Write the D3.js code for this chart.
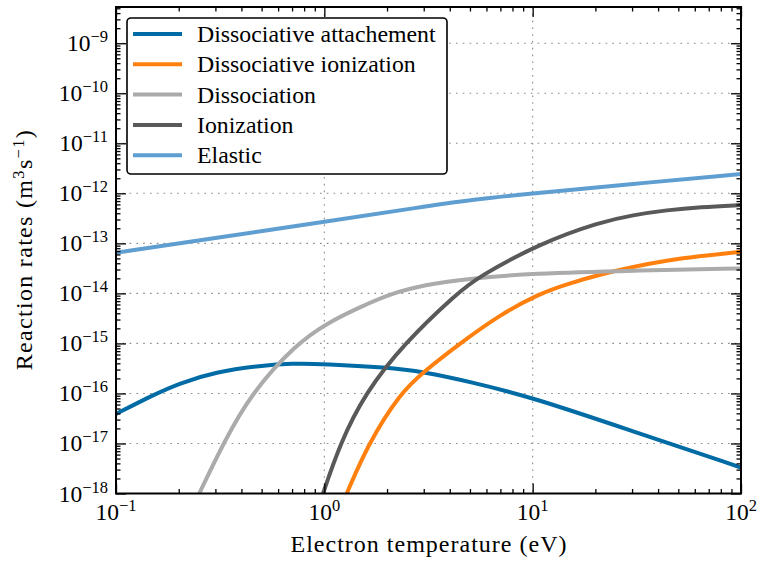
<!DOCTYPE html>
<html>
<head>
<meta charset="utf-8">
<script src="https://cdn.jsdelivr.net/npm/d3@7"></script>
<style>
  html, body { margin: 0; padding: 0; background: #fff; }
  svg { display: block; }
  text { font-family: "Liberation Serif", "Times New Roman", serif; fill: #000; }
</style>
</head>
<body>
<svg id="chart" width="762" height="564"></svg>
<script>
// ---------- data ----------
const seriesNames = ["Dissociative attachement", "Dissociative ionization", "Dissociation", "Ionization", "Elastic"];
const seriesColors = ["#006BA4", "#FF800E", "#ABABAB", "#595959", "#5F9ED1"];

// electron temperature (eV) / reaction rate (m^3 s^-1)
const attachT = [0.1, 0.15, 0.2, 0.3, 0.5, 0.7, 1, 2, 2.99, 4.98, 9.93, 31.7, 100];
const attachK = [3.89e-17, 9.25e-17, 1.58e-16, 2.70e-16, 3.63e-16, 3.98e-16, 3.89e-16, 3.31e-16, 2.70e-16, 1.72e-16, 8.43e-17, 1.64e-17, 3.31e-18];

const dissIonT = [1.281, 1.626, 2.309, 2.987, 4.48, 6.97, 10.85, 14.57, 21.07, 30.4, 44.0, 63.6, 100];
const dissIonK = [1e-18, 1e-17, 1e-16, 2.70e-16, 1e-15, 3.77e-15, 1e-14, 1.53e-14, 2.40e-14, 3.40e-14, 4.53e-14, 5.57e-14, 6.79e-14];

const dissT = [0.251, 0.327, 0.4446, 0.737, 1.042, 1.495, 2.113, 2.987, 4.99, 9.93, 30.3, 100];
const dissK = [1e-18, 1e-17, 1e-16, 1e-15, 2.61e-15, 5.40e-15, 1e-14, 1.47e-14, 2.0e-14, 2.49e-14, 2.86e-14, 3.16e-14];

const ionT = [0.986, 1.19, 1.567, 2.414, 4.335, 5.47, 10.85, 21.06, 30.3, 44.2, 63.6, 100];
const ionK = [1e-18, 1e-17, 1e-16, 1e-15, 1e-14, 2.12e-14, 1e-13, 2.67e-13, 3.68e-13, 4.63e-13, 5.32e-13, 5.83e-13];

const elasticT = [0.1, 0.3, 1, 2.99, 4.98, 9.93, 29.8, 100];
const elasticK = [6.49e-14, 1.28e-13, 2.70e-13, 5.40e-13, 7.35e-13, 1.0e-12, 1.53e-12, 2.43e-12];

const xTickValues = [0.1, 1, 10, 100];
const xTickExps = ["−1", "0", "1", "2"];
const yTickValues = [1e-18, 1e-17, 1e-16, 1e-15, 1e-14, 1e-13, 1e-12, 1e-11, 1e-10, 1e-9];
const yTickExps = ["−18", "−17", "−16", "−15", "−14", "−13", "−12", "−11", "−10", "−9"];

const xTitle = "Electron temperature (eV)";

// ---------- layout ----------
const svg = d3.select("#chart");
const L = 116, R = 741, T = 7, B = 493.5;
const x = d3.scaleLog().domain([0.1, 100]).range([L, R]);
const y = d3.scaleLog().domain([1e-18, 5.3e-9]).range([B, T]);

const xMinor = [];
for (let k = -1; k < 2; k++) for (let m = 2; m <= 9; m++) xMinor.push(m * Math.pow(10, k));
const yMinor = [];
for (let k = -18; k < -8; k++) for (let m = 2; m <= 9; m++) {
  const v = m * Math.pow(10, k);
  if (v <= y.domain()[1]) yMinor.push(v);
}

// grid
const grid = svg.append("g").attr("stroke", "#8a8a8a").attr("stroke-width", 1.1).attr("stroke-dasharray", "1.6,5.2");
grid.selectAll("line.gx").data(xTickValues.slice(1, -1)).enter().append("line")
  .attr("x1", d => x(d)).attr("x2", d => x(d)).attr("y1", T).attr("y2", B);
grid.selectAll("line.gy").data(yTickValues.slice(1)).enter().append("line")
  .attr("y1", d => y(d)).attr("y2", d => y(d)).attr("x1", L).attr("x2", R);

// curves
svg.append("clipPath").attr("id", "clip").append("rect")
  .attr("x", L).attr("y", T).attr("width", R - L).attr("height", B - T);

const series = [
  { T: attachT, K: attachK },
  { T: dissIonT, K: dissIonK },
  { T: dissT, K: dissK },
  { T: ionT, K: ionK },
  { T: elasticT, K: elasticK }
];
const line = d3.line().x(d => x(d[0])).y(d => y(d[1])).curve(d3.curveBasis);
const curves = svg.append("g").attr("clip-path", "url(#clip)");
series.forEach((s, i) => {
  curves.append("path")
    .datum(s.T.map((t, j) => [t, s.K[j]]))
    .attr("fill", "none")
    .attr("stroke", seriesColors[i])
    .attr("stroke-width", 4)
    .attr("stroke-linejoin", "round")
    .attr("d", line);
});

// ticks (inward, all four sides)
function tickAxis(axisFn, scale, vals, size, tr) {
  const g = svg.append("g").attr("transform", tr)
    .call(axisFn(scale).tickValues(vals).tickSize(size).tickFormat(""));
  g.select(".domain").remove();
  g.selectAll(".tick line").attr("stroke", "#000").attr("stroke-width", 1.3);
}
tickAxis(d3.axisBottom, x, xTickValues, -10, `translate(0,${B})`);
tickAxis(d3.axisBottom, x, xMinor, -4.5, `translate(0,${B})`);
tickAxis(d3.axisTop, x, xTickValues, -10, `translate(0,${T})`);
tickAxis(d3.axisTop, x, xMinor, -4.5, `translate(0,${T})`);
tickAxis(d3.axisLeft, y, yTickValues, -10, `translate(${L},0)`);
tickAxis(d3.axisLeft, y, yMinor, -4.5, `translate(${L},0)`);
tickAxis(d3.axisRight, y, yTickValues, -10, `translate(${R},0)`);
tickAxis(d3.axisRight, y, yMinor, -4.5, `translate(${R},0)`);

// frame
svg.append("rect").attr("x", L).attr("y", T).attr("width", R - L).attr("height", B - T)
  .attr("fill", "none").attr("stroke", "#000").attr("stroke-width", 2);

// tick labels
xTickValues.forEach((v, i) => {
  const t = svg.append("text").attr("x", x(v)).attr("y", 520).attr("text-anchor", "middle").style("font-size", "23.5px");
  t.append("tspan").text("10");
  t.append("tspan").attr("dy", -9).style("font-size", "16.5px").text(xTickExps[i]);
});
yTickValues.forEach((v, i) => {
  const t = svg.append("text").attr("x", 108).attr("y", y(v) + 8).attr("text-anchor", "end").style("font-size", "23.5px");
  t.append("tspan").text("10");
  t.append("tspan").attr("dy", -9).style("font-size", "16.5px").text(yTickExps[i]);
});

// axis titles
svg.append("text").attr("x", (L + R) / 2).attr("y", 552).attr("text-anchor", "middle")
  .attr("textLength", 276).attr("lengthAdjust", "spacing")
  .style("font-size", "24px").text(xTitle);
const yt = svg.append("text").attr("transform", `translate(32,${(T + B) / 2}) rotate(-90)`)
  .attr("text-anchor", "middle").attr("textLength", 240).attr("lengthAdjust", "spacing")
  .style("font-size", "24px");
yt.append("tspan").text("Reaction rates (m");
yt.append("tspan").attr("dy", -8).style("font-size", "16.5px").text("3");
yt.append("tspan").attr("dy", 8).text("s");
yt.append("tspan").attr("dy", -8).style("font-size", "16.5px").text("−1");
yt.append("tspan").attr("dy", 8).text(")");

// legend
const lg = svg.append("g");
lg.append("rect").attr("x", 127).attr("y", 18).attr("width", 320).attr("height", 156)
  .attr("rx", 4).attr("fill", "#fff").attr("stroke", "#000").attr("stroke-width", 1.6);
seriesNames.forEach((n, i) => {
  const yy = 34 + i * 30.3;
  lg.append("line").attr("x1", 133).attr("x2", 182).attr("y1", yy).attr("y2", yy)
    .attr("stroke", seriesColors[i]).attr("stroke-width", 4);
  lg.append("text").attr("x", 197).attr("y", yy + 8).style("font-size", "23.8px").text(n);
});
</script>
</body>
</html>
